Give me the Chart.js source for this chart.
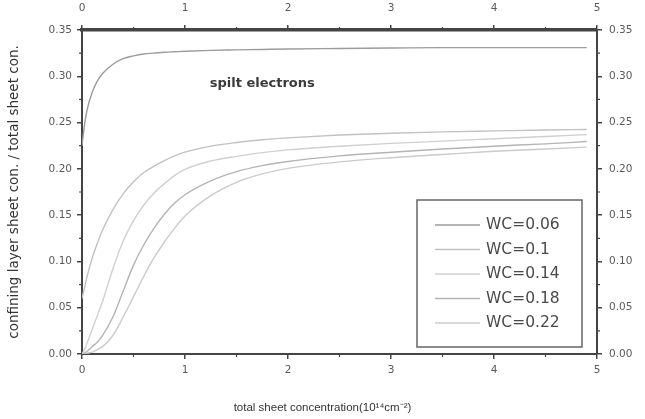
<!DOCTYPE html>
<html lang="en">
<head>
  <meta charset="UTF-8">
  <title>Confining layer sheet concentration</title>
  <script src="https://cdn.jsdelivr.net/npm/chart.js"></script>
  <style>
    body {
      margin: 0;
      background: #fff;
    }
    #wrap {
      width: 645px;
      height: 419px;
    }
  </style>
</head>
<body>
  <div id="wrap"><canvas id="chart" width="645" height="419"></canvas></div>

  <script>
    // total sheet concentration (10^14 cm^-2)
    const conc = [0, 0.025, 0.05, 0.1, 0.15, 0.2, 0.3, 0.4, 0.5, 0.6, 0.7, 0.8, 0.9, 1.0, 1.25, 1.5, 1.75, 2, 2.5, 3, 3.5, 4, 4.5, 4.9];

    // confining layer / total sheet concentration, one list per WC
    const wc006 = [0.225, 0.248, 0.264, 0.283, 0.295, 0.303, 0.313, 0.319, 0.322, 0.324, 0.325, 0.326, 0.3265, 0.327, 0.328, 0.3285, 0.329, 0.3295, 0.330, 0.3305, 0.331, 0.331, 0.331, 0.331];
    const wc010 = [0.060, 0.072, 0.084, 0.104, 0.120, 0.134, 0.156, 0.173, 0.186, 0.196, 0.203, 0.209, 0.214, 0.218, 0.2245, 0.2285, 0.2315, 0.2335, 0.2365, 0.2385, 0.240, 0.241, 0.242, 0.2425];
    const wc014 = [0, 0.005, 0.012, 0.027, 0.042, 0.057, 0.092, 0.122, 0.144, 0.161, 0.174, 0.184, 0.193, 0.1995, 0.2085, 0.2135, 0.2175, 0.2205, 0.2245, 0.2275, 0.230, 0.2325, 0.235, 0.237];
    const wc018 = [0, 0.001, 0.003, 0.008, 0.013, 0.020, 0.040, 0.068, 0.096, 0.118, 0.136, 0.151, 0.163, 0.172, 0.187, 0.197, 0.2035, 0.208, 0.214, 0.218, 0.2215, 0.2245, 0.227, 0.2295];
    const wc022 = [0, 0, 0.001, 0.002, 0.005, 0.008, 0.020, 0.040, 0.062, 0.084, 0.104, 0.121, 0.136, 0.149, 0.171, 0.1855, 0.1945, 0.2005, 0.2075, 0.212, 0.2155, 0.219, 0.2215, 0.2235];

    const seriesNames = ['WC=0.06', 'WC=0.1', 'WC=0.14', 'WC=0.18', 'WC=0.22'];
    const seriesValues = [wc006, wc010, wc014, wc018, wc022];
    const seriesColors = ['#9c9c9c', '#c2c2c2', '#d0d0d0', '#b4b4b4', '#cbcbcb'];

    const xTicks = [0, 1, 2, 3, 4, 5];
    const yTicks = [0, 0.05, 0.10, 0.15, 0.20, 0.25, 0.30, 0.35];
    const noteText = 'spilt electrons';
    const xTitle = 'total sheet concentration(10¹⁴cm⁻²)';

    const axisColor = '#444';
    const labelColor = '#5a5a5a';
    const tickFont = { family: 'DejaVu Sans, sans-serif', size: 10.5 };

    const datasets = seriesNames.map((name, i) => ({
      label: name,
      data: conc.map((x, j) => ({ x: x, y: seriesValues[i][j] })),
      borderColor: seriesColors[i],
      borderWidth: 1.4,
      pointRadius: 0,
      fill: false,
      cubicInterpolationMode: 'monotone'
    }));

    // fixed box sizes so the plot area lands in the same place every time
    function fixSize(size) {
      return function (scale) {
        if (scale.isHorizontal()) scale.height = size;
        else scale.width = size;
      };
    }

    function xAxis(position, size, borderWidth) {
      return {
        type: 'linear',
        position: position,
        min: 0,
        max: 5,
        afterFit: fixSize(size),
        afterBuildTicks: s => { s.ticks = xTicks.map(v => ({ value: v })); },
        ticks: { color: labelColor, font: tickFont, padding: position === 'top' ? 10 : 5 },
        border: { color: axisColor, width: borderWidth },
        grid: { drawOnChartArea: false, tickLength: 5, color: axisColor, lineWidth: 1.5 }
      };
    }

    function yAxis(position, size, title) {
      return {
        type: 'linear',
        position: position,
        min: 0,
        max: 0.35,
        afterFit: fixSize(size),
        afterBuildTicks: s => { s.ticks = yTicks.map(v => ({ value: v })); },
        ticks: { color: labelColor, font: tickFont, padding: position === 'left' ? 5 : 7, callback: v => v.toFixed(2) },
        border: { color: axisColor, width: 2 },
        grid: { drawOnChartArea: false, tickLength: 5, color: axisColor, lineWidth: 1.5 },
        title: title
      };
    }

    // small ticks halfway between the numbered ones
    const minorTicks = {
      id: 'minorTicks',
      afterDraw(chart) {
        const c = chart.ctx;
        const a = chart.chartArea;
        c.save();
        c.strokeStyle = axisColor;
        c.lineWidth = 1.2;
        for (let i = 0; i < xTicks.length - 1; i++) {
          const px = chart.scales.x.getPixelForValue((xTicks[i] + xTicks[i + 1]) / 2);
          c.beginPath();
          c.moveTo(px, a.bottom); c.lineTo(px, a.bottom + 3);
          c.moveTo(px, a.top); c.lineTo(px, a.top - 3);
          c.stroke();
        }
        for (let i = 0; i < yTicks.length - 1; i++) {
          const py = chart.scales.y.getPixelForValue((yTicks[i] + yTicks[i + 1]) / 2);
          c.beginPath();
          c.moveTo(a.left, py); c.lineTo(a.left - 3, py);
          c.moveTo(a.right, py); c.lineTo(a.right + 3, py);
          c.stroke();
        }
        c.restore();
      }
    };

    // curve note, x title centred on the page, and the boxed legend
    const annotations = {
      id: 'annotations',
      afterDraw(chart) {
        const c = chart.ctx;
        const a = chart.chartArea;
        c.save();
        c.fillStyle = '#3a3a3a';
        c.font = 'bold 13px "DejaVu Sans", sans-serif';
        c.textAlign = 'center';
        c.textBaseline = 'middle';
        c.fillText(noteText, chart.scales.x.getPixelForValue(1.75), chart.scales.y.getPixelForValue(0.292));

        c.fillStyle = '#333';
        c.font = '11.5px "Liberation Sans", Arial, sans-serif';
        c.fillText(xTitle, chart.width / 2, chart.height - 11);

        const bx = a.right - 180, by = a.bottom - 154, bw = 165, bh = 147;
        c.fillStyle = '#fff';
        c.fillRect(bx, by, bw, bh);
        c.strokeStyle = '#666';
        c.lineWidth = 1.5;
        c.strokeRect(bx, by, bw, bh);

        c.font = '15.5px "DejaVu Sans", sans-serif';
        c.textAlign = 'left';
        chart.data.datasets.forEach((ds, i) => {
          const ry = by + 25 + i * 24.5;
          c.strokeStyle = ds.borderColor;
          c.lineWidth = 1.4;
          c.beginPath();
          c.moveTo(bx + 18, ry); c.lineTo(bx + 63, ry);
          c.stroke();
          c.fillStyle = '#4a4a4a';
          c.fillText(ds.label, bx + 69, ry);
        });
        c.restore();
      }
    };

    new Chart(document.getElementById('chart'), {
      type: 'line',
      data: { datasets: datasets },
      options: {
        responsive: false,
        animation: false,
        layout: { padding: 0 },
        plugins: { legend: { display: false }, tooltip: { enabled: false } },
        scales: {
          x: xAxis('bottom', 65, 2),
          x2: xAxis('top', 30, 3.5),
          y: yAxis('left', 82, {
            display: true,
            text: 'confining layer sheet con. / total sheet con.',
            color: '#333',
            font: { family: 'DejaVu Sans, sans-serif', size: 13.5 },
            padding: { top: 6, bottom: 0 }
          }),
          y2: yAxis('right', 48, { display: false })
        }
      },
      plugins: [minorTicks, annotations]
    });
  </script>
</body>
</html>
